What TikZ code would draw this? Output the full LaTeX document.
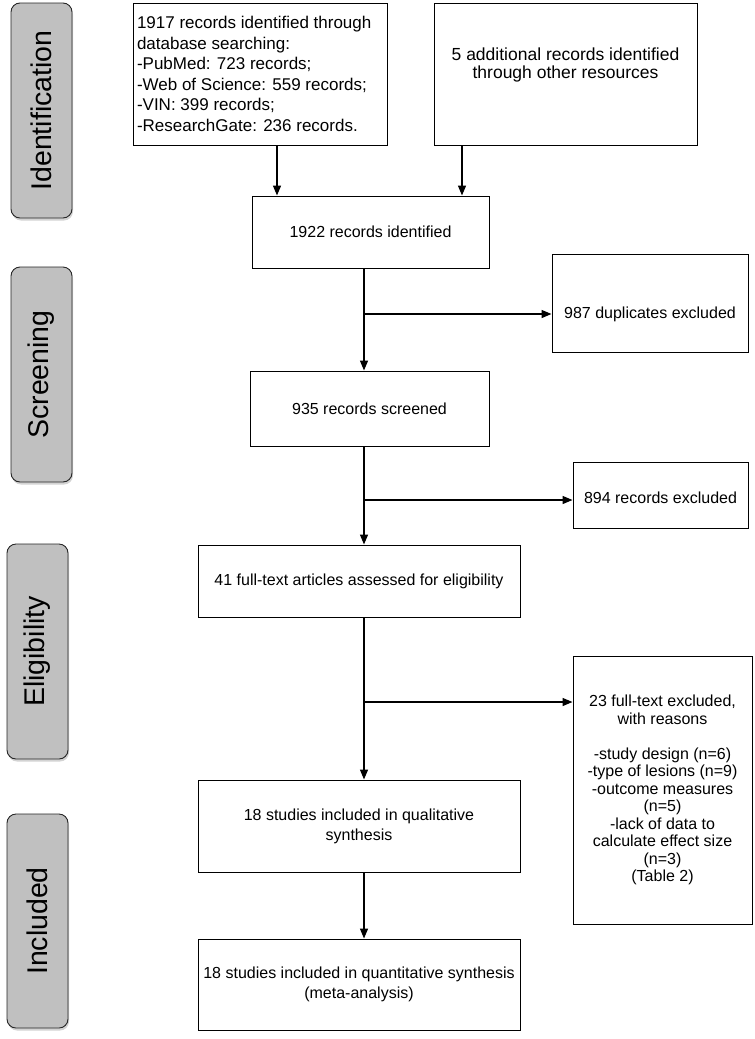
\documentclass[tikz,border=0pt]{standalone}
\usepackage{fontspec}
\setmainfont{Liberation Sans}
\usepackage{tikz}
\usetikzlibrary{positioning,calc,arrows.meta,shadows}

\definecolor{phasegray}{RGB}{192,192,192}

\tikzset{
    phase/.style={draw=black!85, fill=phasegray, line width=0.9pt, rounded corners=9pt,
        minimum width=61pt, minimum height=215pt, inner sep=0pt,
        drop shadow={shadow xshift=1pt, shadow yshift=-2.5pt, opacity=0.35}},
    phasetext/.style={rotate=90, font=\fontsize{28.5}{31}\selectfont},
    box/.style={draw, line width=1pt, align=center, inner sep=3pt,
        font=\fontsize{16}{20}\selectfont},
    flow/.style={line width=1.4pt, -{Triangle[length=10pt,width=8pt]}},
}

\begin{document}
\begin{tikzpicture}[x=1pt,y=-1pt]
    \useasboundingbox (0,0) rectangle (755,1039);

    % phases on the left
    \node[phase] (pIdent) at (41.5,110.5) {};
    \node[phasetext] at (pIdent.center) {Identification};
    \node[phase] (pScreen) at (41.5,374.5) {};
    \node[phasetext] at (pScreen.center) {Screening};
    \node[phase] (pElig) at (37.5,651.5) {};
    \node[phasetext] at (pElig.center) {Eligibility};
    \node[phase, minimum height=214pt] (pIncl) at (37.5,921) {};
    \node[phasetext] at (pIncl.center) {Included};

    % boxes
    \node[box, align=flush left, minimum width=254pt, minimum height=142pt, text width=246pt,
        inner xsep=4pt, font=\fontsize{17}{20.5}\selectfont] (dbRec) at (260,74)
        {1917 records identified through\\database searching:\\-PubMed: 723 records;\\-Web of Science: 559 records;\\-VIN: 399 records;\\-ResearchGate: 236 records.};
    \node[box, minimum width=263pt, minimum height=142pt, text depth=22pt,
        font=\fontsize{17.5}{18.5}\selectfont] (otherRec) at (565.5,74)
        {5 additional records identified\\through other resources};
    \node[box, minimum width=237pt, minimum height=72pt] (identRec) at (370.5,232) {1922 records identified};
    \node[box, minimum width=196pt, minimum height=98pt, text height=35pt, text depth=4pt] (dupRec) at (650,303) {987 duplicates excluded};
    \node[box, minimum width=239pt, minimum height=75pt] (screenRec) at (369.5,408.5) {935 records screened};
    \node[box, minimum width=175pt, minimum height=66pt, text height=21pt, text depth=4pt] (exclRec) at (660.5,495) {894 records excluded};
    \node[box, minimum width=322pt, minimum height=72pt] (eligRec) at (359,581) {41 full-text articles assessed for eligibility};
    \node[box, minimum width=179pt, minimum height=268pt, font=\fontsize{16}{17.5}\selectfont] (fullExcl) at (662.5,790)
        {23 full-text excluded,\\with reasons\\[17.5pt]-study design (n=6)\\-type of lesions (n=9)\\-outcome measures\\(n=5)\\-lack of data to\\calculate effect size\\(n=3)\\(Table 2)};
    \node[box, minimum width=322pt, minimum height=92pt] (qualRec) at (359,826) {18 studies included in qualitative\\synthesis};
    \node[box, minimum width=322pt, minimum height=91pt] (quantRec) at (359,984.5) {18 studies included in quantitative synthesis\\(meta-analysis)};

    % guide points
    \coordinate (jL) at (277,0);
    \coordinate (jR) at (462,0);
    \coordinate (spine) at (364,0);
    \coordinate (b1) at (364,314);
    \coordinate (b2) at (364,500);
    \coordinate (b3) at (364,702);

    % connectors
    \draw[flow] (dbRec.south -| jL) -- (identRec.north -| jL);
    \draw[flow] (otherRec.south -| jR) -- (identRec.north -| jR);
    \draw[flow] (identRec.south -| spine) -- (screenRec.north -| spine);
    \draw[flow] (b1) -- (dupRec.west |- b1);
    \draw[flow] (screenRec.south -| spine) -- (eligRec.north -| spine);
    \draw[flow] (b2) -- (exclRec.west |- b2);
    \draw[flow] (eligRec.south -| spine) -- (qualRec.north -| spine);
    \draw[flow] (b3) -- (fullExcl.west |- b3);
    \draw[flow] (qualRec.south -| spine) -- (quantRec.north -| spine);
\end{tikzpicture}
\end{document}
